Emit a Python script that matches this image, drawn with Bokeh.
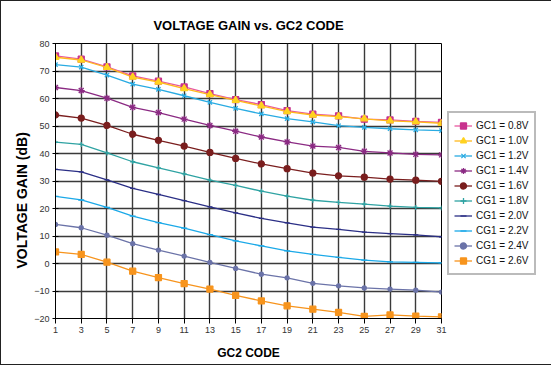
from bokeh.plotting import figure
from bokeh.models import FixedTicker, Legend, Title
from bokeh.embed import file_html
from bokeh.resources import INLINE

# ---- data ----
gc2_code = [1, 3, 5, 7, 9, 11, 13, 15, 17, 19, 21, 23, 25, 27, 29, 31]
y_ticks = [-20, -10, 0, 10, 20, 30, 40, 50, 60, 70, 80]

gc1_08 = [75.5, 74.3, 71.5, 68.2, 66.3, 64.2, 61.8, 59.6, 57.8, 55.6, 54.3, 53.7, 52.5, 52.2, 51.7, 51.3]
gc1_10 = [75.0, 74.0, 71.3, 67.8, 66.0, 63.6, 61.4, 59.3, 57.3, 55.2, 54.0, 53.4, 52.6, 51.9, 51.5, 51.0]
gc1_12 = [72.3, 71.4, 68.5, 65.2, 63.3, 61.0, 58.6, 56.4, 54.4, 52.7, 51.5, 50.1, 49.5, 49.0, 48.6, 48.3]
gc1_14 = [64.0, 62.9, 60.1, 56.8, 54.9, 52.5, 50.2, 48.1, 46.0, 44.2, 42.7, 42.2, 40.8, 40.2, 39.7, 39.5]
cg1_16 = [54.0, 52.9, 50.2, 47.0, 44.8, 42.7, 40.4, 38.2, 36.2, 34.5, 32.9, 31.9, 31.4, 30.7, 30.3, 29.9]
cg1_18 = [44.1, 43.3, 40.2, 37.0, 34.8, 32.6, 30.3, 28.4, 26.3, 24.5, 23.0, 22.2, 21.6, 20.9, 20.4, 20.2]
cg1_20 = [34.2, 33.3, 30.4, 27.3, 25.1, 22.9, 20.6, 18.4, 16.4, 14.8, 13.2, 12.4, 11.4, 10.9, 10.4, 9.7]
cg1_22 = [24.4, 23.1, 20.4, 17.2, 14.9, 12.9, 10.5, 8.2, 6.4, 4.6, 3.3, 2.2, 1.2, 0.6, 0.4, 0.2]
cg1_24 = [14.2, 13.0, 10.3, 7.2, 4.9, 2.7, 0.4, -1.8, -3.9, -5.2, -7.2, -8.1, -8.9, -9.3, -9.7, -10.4]
cg1_26 = [4.2, 3.3, 0.5, -2.8, -5.1, -7.3, -9.3, -11.6, -13.6, -15.4, -16.6, -17.8, -19.2, -18.7, -19.1, -19.4]

series_labels = ["GC1 = 0.8V", "GC1 = 1.0V", "GC1 = 1.2V", "GC1 = 1.4V", "CG1 = 1.6V",
                 "CG1 = 1.8V", "CG1 = 2.0V", "CG1 = 2.2V", "CG1 = 2.4V", "CG1 = 2.6V"]
series_values = [gc1_08, gc1_10, gc1_12, gc1_14, cg1_16, cg1_18, cg1_20, cg1_22, cg1_24, cg1_26]

# styles: (line color, marker color, marker, size)
styles = [
    ("#E8589F", "#C8328E", "square", 6),
    ("#FFB81C", "#FFD21F", "triangle", 7),
    ("#29ABE2", "#29ABE2", "x", 6),
    ("#8B2A83", "#8B2A83", "asterisk", 7),
    ("#7A1E1E", "#7A1E1E", "circle", 6),
    ("#2FA3A3", "#2FA3A3", "cross", 5),
    ("#2B2F86", "#2B2F86", "dash", 5),
    ("#1BA9E8", "#1BA9E8", "dash", 6),
    ("#6B73A8", "#6B73A8", "circle", 4),
    ("#F7941D", "#F7941D", "square", 6),
]

FONT = "Liberation Sans"

p = figure(frame_width=386, frame_height=275, x_range=(1, 31), y_range=(-20, 80),
           output_backend="svg", toolbar_location=None,
           min_border_left=54, min_border_right=101, min_border_top=42, min_border_bottom=46,
           background_fill_color="white", border_fill_color="white")
p.styles = {"border": "1px solid #222"}

p.title.text = "VOLTAGE GAIN vs. GC2 CODE"
p.title.align = "center"
p.title.text_font = FONT
p.title.text_font_size = "13px"
p.title.text_font_style = "bold"
p.title.text_color = "black"
p.title.standoff = 22

p.outline_line_color = "black"
p.outline_line_width = 1

p.xaxis.ticker = FixedTicker(ticks=gc2_code)
p.yaxis.ticker = FixedTicker(ticks=y_ticks)
p.xgrid.ticker = FixedTicker(ticks=gc2_code)
p.ygrid.ticker = FixedTicker(ticks=y_ticks)
for g in (p.xgrid, p.ygrid):
    g.grid_line_color = "#3a3a3a"
    g.grid_line_width = 1.4

for ax in (p.xaxis, p.yaxis):
    ax.axis_line_color = "black"
    ax.major_tick_line_color = "black"
    ax.minor_tick_line_color = None
    ax.major_label_text_font = FONT
    ax.major_label_text_font_size = "9px"
    ax.major_label_text_color = "#333333"

p.xaxis.major_tick_in = 0
p.xaxis.major_tick_out = 5
p.xaxis.major_label_standoff = 3
p.yaxis.major_tick_in = 3
p.yaxis.major_tick_out = 3
p.yaxis.major_label_standoff = 3

p.xaxis.axis_label = "GC2 CODE"
p.xaxis.axis_label_text_font = FONT
p.xaxis.axis_label_text_font_size = "12px"
p.xaxis.axis_label_text_font_style = "bold"
p.xaxis.axis_label_text_color = "black"
p.xaxis.axis_label_standoff = 10

ylab = Title(text="VOLTAGE GAIN (dB)", align="left", offset=50,
             text_font=FONT, text_font_size="14px", text_font_style="bold",
             text_color="black", standoff=4)
p.add_layout(ylab, "left")

items = []
for lab, vals, (lc, mc, mk, sz) in zip(series_labels, series_values, styles):
    r1 = p.line(gc2_code, vals, line_color=lc, line_width=1.3)
    r2 = p.scatter(gc2_code, vals, marker=mk, size=sz, fill_color=mc, line_color=mc, line_width=1.3)
    items.append((lab, [r1, r2]))

legend = Legend(items=items, location=(6, 43), orientation="vertical")
legend.margin = 0
legend.padding = 5
legend.spacing = 0
legend.label_height = 15
legend.glyph_height = 15
legend.glyph_width = 18
legend.label_standoff = 4
legend.label_text_font = FONT
legend.label_text_font_size = "10px"
legend.label_text_color = "#111111"
legend.border_line_color = "#777777"
legend.border_line_width = 2
legend.background_fill_color = "white"
p.add_layout(legend, "right")

open("out.html", "w").write(file_html(p, INLINE))
